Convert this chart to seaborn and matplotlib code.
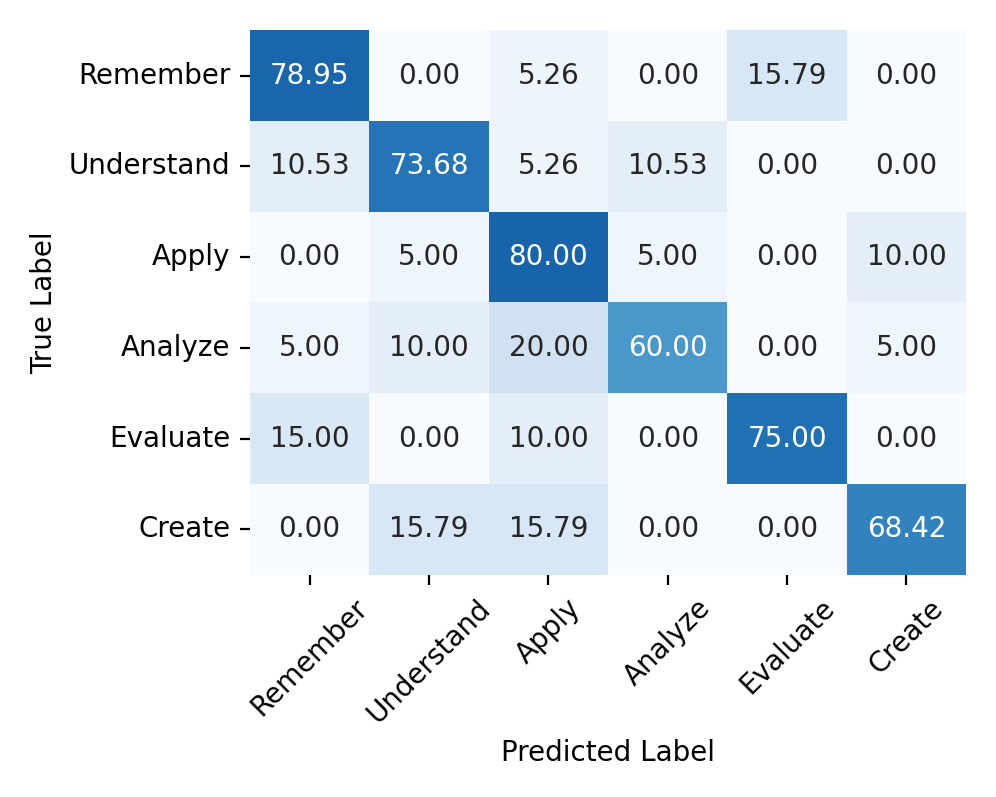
import numpy as np
import pandas as pd
import matplotlib
matplotlib.use('Agg')
import matplotlib.pyplot as plt
import seaborn as sns

labels = ['Remember', 'Understand', 'Apply', 'Analyze', 'Evaluate', 'Create']

row_remember = [78.95, 0.00, 5.26, 0.00, 15.79, 0.00]
row_understand = [10.53, 73.68, 5.26, 10.53, 0.00, 0.00]
row_apply = [0.00, 5.00, 80.00, 5.00, 0.00, 10.00]
row_analyze = [5.00, 10.00, 20.00, 60.00, 0.00, 5.00]
row_evaluate = [15.00, 0.00, 10.00, 0.00, 75.00, 0.00]
row_create = [0.00, 15.79, 15.79, 0.00, 0.00, 68.42]

cm = pd.DataFrame([row_remember, row_understand, row_apply,
                   row_analyze, row_evaluate, row_create],
                  index=labels, columns=labels)

fig = plt.figure(figsize=(4.98, 3.985), dpi=200)
ax = fig.add_axes([0.251, 0.279, 0.719, 0.683])

# confusion matrix heatmap, no colorbar
sns.heatmap(cm, annot=True, fmt='.2f', cmap='Blues', vmin=0, vmax=100,
            cbar=False, ax=ax, annot_kws={'fontsize': 10})

ax.set_xlabel('Predicted Label', fontsize=10)
ax.set_ylabel('True Label', fontsize=10)
ax.tick_params(axis='x', rotation=45, labelsize=10)
ax.tick_params(axis='y', rotation=0, labelsize=10)
for t in ax.get_xticklabels():
    t.set_ha('center')

fig.savefig('out.png', dpi=200)
